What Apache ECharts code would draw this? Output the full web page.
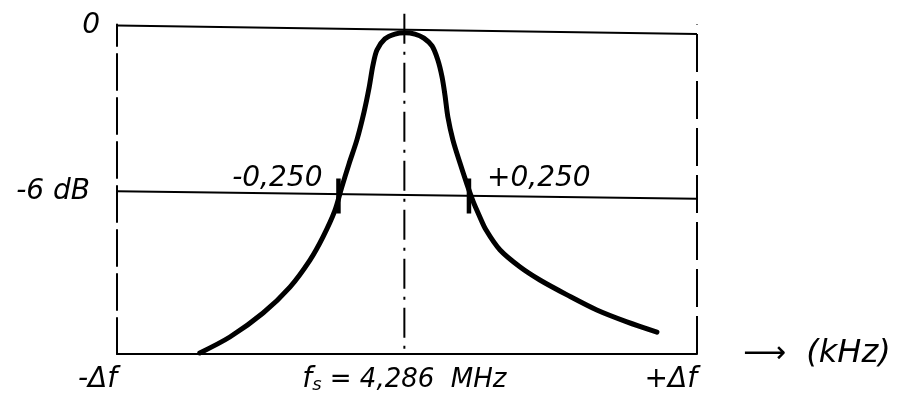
<!DOCTYPE html>
<html><head><meta charset="utf-8">
<script src="https://cdn.jsdelivr.net/npm/echarts@6/dist/echarts.min.js"></script>
<style>html,body{margin:0;padding:0;background:#fff}#c{width:907px;height:412px}</style>
</head><body><div id="c"></div>
<script>
// frequency offset from fs (kHz) and relative level (dB)
const offsetKHz = [-0.776,-0.662,-0.536,-0.434,-0.358,-0.309,-0.264,-0.237,-0.210,-0.180,-0.153,-0.134,-0.119,-0.104,-0.074,-0.036,0.002,0.040,0.074,0.105,0.127,0.143,0.154,0.165,0.184,0.211,0.237,0.260,0.283,0.310,0.363,0.439,0.514,0.617,0.730,0.844,0.958];
const levelDb  = [-11.96,-11.37,-10.48,-9.52,-8.52,-7.67,-6.70,-5.81,-4.96,-4.07,-3.04,-2.15,-1.30,-0.74,-0.33,-0.15,-0.10,-0.15,-0.30,-0.59,-1.11,-1.74,-2.41,-3.22,-4.07,-4.93,-5.70,-6.33,-6.85,-7.41,-8.15,-8.78,-9.26,-9.81,-10.37,-10.81,-11.19];
// -6 dB bandwidth markers
const markerKHz = [-0.25, 0.245];
const markerLabels = ['-0,250', '+0,250'];
const markerSpanDb = [-5.5, -6.8];
// reference levels as drawn (slightly skewed in the scan): [left end, right end]
const zeroLineDb = [0.17, -0.15];
const sixDbLineDb = [-5.97, -6.25];
// axis extents and tick labels
const xMin = -1.09, xMax = 1.11;
const yMin = -12, yMax = 0.2;
const yTicks = [0, -6];
const yTickLabels = ['0', '-6 dB'];
const xTickValues = [xMin, 0, xMax];
const xTickLabels = ['-Δf', '{f|f}{s|s}{t| = 4,286  MHz}', '+Δf'];

const FONT = 'DejaVu Sans';
const chart = echarts.init(document.getElementById('c'), null, {renderer: 'canvas'});
const curve = offsetKHz.map((x, i) => [x, levelDb[i]]);
const txt = {fontFamily: FONT, fontStyle: 'italic', fontSize: 28, color: '#000'};
const solid = {type: 'solid', width: 2, color: '#000'};

const series = [
  {
    type: 'line', data: curve, smooth: 0.3, showSymbol: false, symbol: 'none',
    lineStyle: {color: '#000', width: 5, cap: 'round', join: 'round'}, z: 5,
    markLine: {
      silent: true, symbol: 'none', label: {show: false},
      data: [
        [{coord: [xMin, zeroLineDb[0]], lineStyle: solid}, {coord: [xMax, zeroLineDb[1]]}],
        [{coord: [xMin, sixDbLineDb[0]], lineStyle: solid}, {coord: [xMax, sixDbLineDb[1]]}],
        {xAxis: xMax, lineStyle: {type: [38, 9], width: 2, color: '#000'}}
      ]
    }
  },
  {
    type: 'line', data: [[0, 0.6], [0, yMin]], clip: false, showSymbol: false, symbol: 'none',
    lineStyle: {color: '#000', width: 2, type: [30, 8, 3, 8]}, z: 3
  }
];
markerKHz.forEach((m, i) => {
  series.push({
    type: 'line', data: markerSpanDb.map(v => [m, v]), showSymbol: false, symbol: 'none',
    lineStyle: {color: '#000', width: 4.5}, z: 6
  });
  series.push({
    type: 'scatter', data: [[m, markerSpanDb[0]]], symbolSize: 0, z: 7,
    itemStyle: {opacity: 1},
    label: Object.assign({show: true, opacity: 1, formatter: markerLabels[i], position: i === 0 ? 'left' : 'right', distance: i === 0 ? 16 : 18}, txt)
  });
});

chart.setOption({
  backgroundColor: '#fff',
  animation: false,
  grid: {left: 117, right: 210, top: 24.6, bottom: 58, outerBoundsMode: 'none'},
  xAxis: {
    type: 'value', min: xMin, max: xMax,
    axisLine: {show: true, onZero: false, lineStyle: {color: '#000', width: 2}},
    axisTick: {show: false},
    splitLine: {show: false},
    axisLabel: {
      customValues: xTickValues, margin: 12, alignMinLabel: 'right', alignMaxLabel: 'right',
      formatter: v => { const i = xTickValues.findIndex(t => Math.abs(t - v) < 1e-6); return i >= 0 ? xTickLabels[i] : ''; },
      fontFamily: FONT, fontStyle: 'italic', fontSize: 28, color: '#000',
      rich: {
        f: {fontFamily: FONT, fontStyle: 'italic', fontSize: 28, color: '#000'},
        s: {fontFamily: FONT, fontSize: 18, color: '#000', verticalAlign: 'bottom', padding: [10, 0, 0, 0]},
        t: {fontFamily: FONT, fontSize: 26, color: '#000'}
      }
    },
    name: '{a|⟶}{b|  (kHz)}', nameLocation: 'end', nameGap: 46,
    nameTextStyle: {
      rich: {
        a: {fontFamily: FONT, fontSize: 30, color: '#000'},
        b: {fontFamily: FONT, fontStyle: 'italic', fontSize: 32, color: '#000'}
      }
    }
  },
  yAxis: {
    type: 'value', min: yMin, max: yMax, interval: 6,
    axisLine: {show: true, onZero: false, lineStyle: {color: '#000', width: 2, type: [36, 8]}},
    axisTick: {show: false},
    splitLine: {show: false},
    axisLabel: {
      margin: 17, showMaxLabel: false,
      formatter: v => { const i = yTicks.indexOf(v); return i === 0 ? '{z|' + yTickLabels[0] + '}' : i === 1 ? '{d|' + yTickLabels[1] + '}' : ''; },
      rich: {
        z: Object.assign({padding: [0, 0, 8, 0]}, txt),
        d: Object.assign({padding: [0, 10, 0, 0]}, txt)
      }
    }
  },
  series: series
});
</script></body></html>
